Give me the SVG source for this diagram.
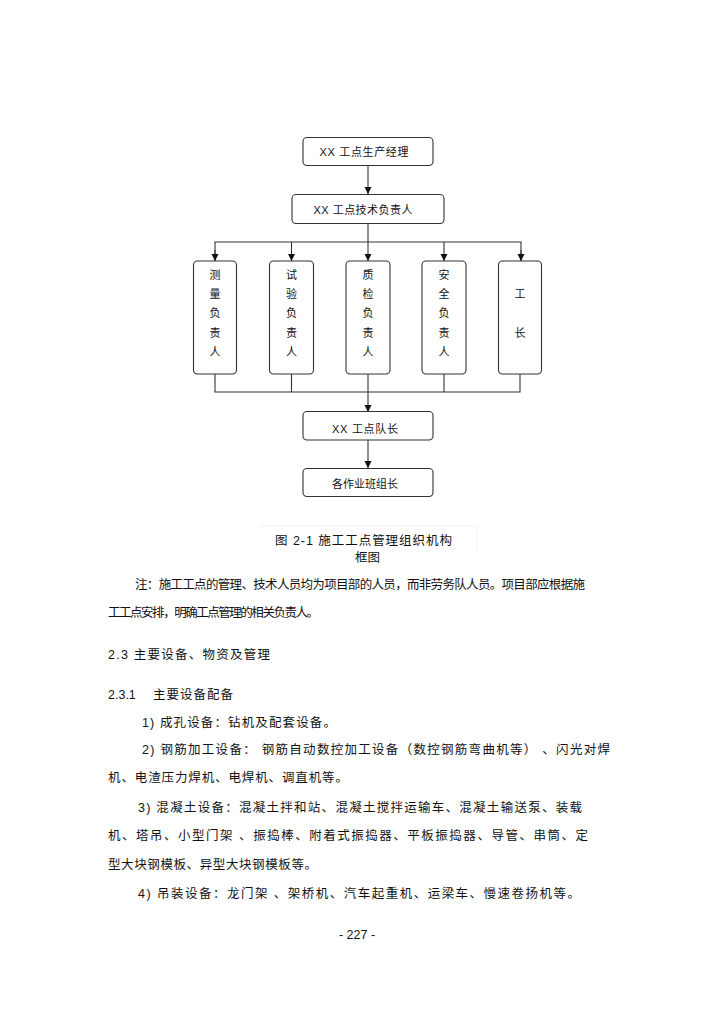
<svg xmlns="http://www.w3.org/2000/svg" width="724" height="1024" viewBox="0 0 724 1024">
<defs>
<marker id="arr" markerWidth="8" markerHeight="8" refX="7" refY="4" orient="auto" markerUnits="userSpaceOnUse">
<path d="M0,0.5 L7,4 L0,7.5 Z" fill="#111"/>
</marker>
<style>
.box{fill:#fff;stroke:#333;stroke-width:1.1}
.ln{fill:none;stroke:#333;stroke-width:1.1}
.t{font-family:"Liberation Sans","Noto Sans CJK SC",sans-serif;font-size:11px;fill:#111}
.c{text-anchor:middle}
.b{font-family:"Liberation Sans","Noto Sans CJK SC",sans-serif;font-size:12.5px;fill:#111}
</style>
</defs>
<rect width="724" height="1024" fill="#fff"/>
<g id="connectors">
<line class="ln" x1="368" y1="166" x2="368" y2="194" marker-end="url(#arr)"/>
<line class="ln" x1="368" y1="223" x2="368" y2="261" marker-end="url(#arr)"/>
<polyline class="ln" points="215,261 215,242 521,242 521,261"/>
<line class="ln" x1="215" y1="250" x2="215" y2="261" marker-end="url(#arr)"/>
<line class="ln" x1="291.5" y1="242" x2="291.5" y2="261" marker-end="url(#arr)"/>
<line class="ln" x1="444" y1="242" x2="444" y2="261" marker-end="url(#arr)"/>
<line class="ln" x1="521" y1="250" x2="521" y2="261" marker-end="url(#arr)"/>
<polyline class="ln" points="215,374 215,392 520,392 520,374"/>
<line class="ln" x1="291.5" y1="374" x2="291.5" y2="392"/>
<line class="ln" x1="444" y1="374" x2="444" y2="392"/>
<line class="ln" x1="368" y1="374" x2="368" y2="412" marker-end="url(#arr)"/>
<line class="ln" x1="368" y1="440" x2="368" y2="468" marker-end="url(#arr)"/>
</g>
<g id="n1"><rect class="box" x="303" y="137.5" width="130" height="28" rx="4"/><text class="t" x="319.5" y="156" textLength="89">XX  工点生产经理</text></g>
<g id="n2"><rect class="box" x="292" y="194.5" width="152" height="29" rx="4"/><text class="t" x="313.5" y="213.5" textLength="99">XX  工点技术负责人</text></g>
<g id="n3"><rect class="box" x="193.5" y="261" width="43" height="113" rx="4"/>
<text class="t c" x="215" y="279">测</text><text class="t c" x="215" y="298">量</text><text class="t c" x="215" y="317">负</text><text class="t c" x="215" y="336.5">责</text><text class="t c" x="215" y="355.5">人</text></g>
<g id="n4"><rect class="box" x="269.5" y="261" width="44" height="113" rx="4"/>
<text class="t c" x="291.5" y="279">试</text><text class="t c" x="291.5" y="298">验</text><text class="t c" x="291.5" y="317">负</text><text class="t c" x="291.5" y="336.5">责</text><text class="t c" x="291.5" y="355.5">人</text></g>
<g id="n5"><rect class="box" x="346" y="261" width="44" height="113" rx="4"/>
<text class="t c" x="368" y="279">质</text><text class="t c" x="368" y="298">检</text><text class="t c" x="368" y="317">负</text><text class="t c" x="368" y="336.5">责</text><text class="t c" x="368" y="355.5">人</text></g>
<g id="n6"><rect class="box" x="422" y="261" width="44" height="113" rx="4"/>
<text class="t c" x="444" y="279">安</text><text class="t c" x="444" y="298">全</text><text class="t c" x="444" y="317">负</text><text class="t c" x="444" y="336.5">责</text><text class="t c" x="444" y="355.5">人</text></g>
<g id="n7"><rect class="box" x="498.5" y="261" width="43" height="113" rx="4"/>
<text class="t c" x="520" y="298">工</text><text class="t c" x="520" y="336.5">长</text></g>
<g id="n8"><rect class="box" x="303" y="411.5" width="130" height="28.5" rx="4"/><text class="t" x="332" y="432.5" textLength="66">XX  工点队长</text></g>
<g id="n9"><rect class="box" x="303" y="468.5" width="130" height="28" rx="4"/><text class="t" x="332" y="487.5" textLength="66">各作业班组长</text></g>
<polyline points="260,526 477,526 477,553" fill="none" stroke="#f0f0f0" stroke-width="1"/>
<text class="b" x="275" y="545" font-size="13.5" textLength="177">图 2-1 施工工点管理组织机构</text>
<text class="b" x="355" y="562" font-size="13.5" textLength="25">框图</text>
<text class="b" x="135" y="588.5" font-size="11" textLength="450">注：施工工点的管理、技术人员均为项目部的人员，而非劳务队人员。项目部应根据施</text>
<text class="b" x="108" y="617" font-size="11" textLength="211">工工点安排，明确工点管理的相关负责人。</text>
<text class="b" x="108" y="659" textLength="162">2.3  主要设备、物资及管理</text>
<text class="b" x="108" y="698.5">2.3.1</text>
<text class="b" x="153" y="698.5" textLength="80">主要设备配备</text>
<text class="b" x="142" y="727" textLength="194">1)  成孔设备：钻机及配套设备。</text>
<text class="b" x="142" y="754" textLength="468">2)  钢筋加工设备： 钢筋自动数控加工设备（数控钢筋弯曲机等）   、闪光对焊</text>
<text class="b" x="108" y="782" textLength="240">机、电渣压力焊机、电焊机、调直机等。</text>
<text class="b" x="138" y="812" textLength="444">3)  混凝土设备：混凝土拌和站、混凝土搅拌运输车、混凝土输送泵、装载</text>
<text class="b" x="108" y="840" textLength="480">机、塔吊、小型门架    、振捣棒、附着式振捣器、平板振捣器、导管、串筒、定</text>
<text class="b" x="108" y="869" textLength="209">型大块钢模板、异型大块钢模板等。</text>
<text class="b" x="138" y="898" textLength="442">4)  吊装设备：龙门架    、架桥机、汽车起重机、运梁车、慢速卷扬机等。</text>
<text class="b" x="357" y="938.5" font-size="9" text-anchor="middle">- 227 -</text>
</svg>
